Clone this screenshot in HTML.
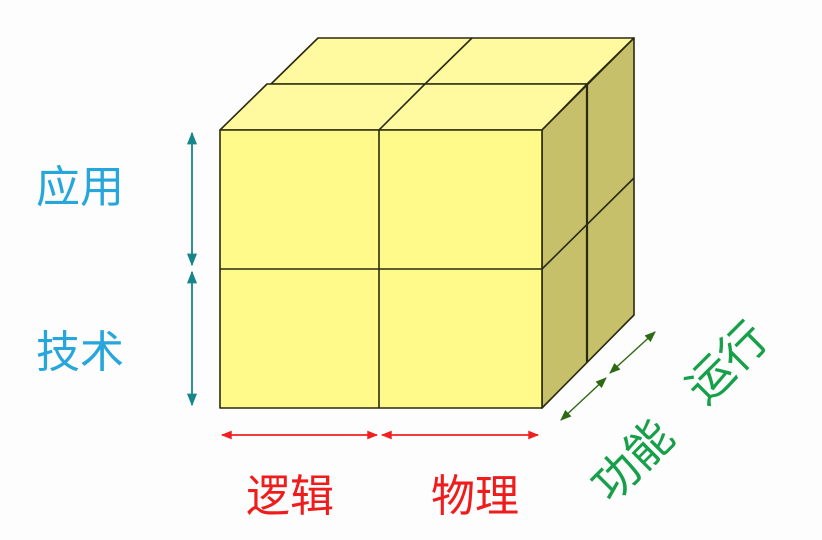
<!DOCTYPE html>
<html><head><meta charset="utf-8"><style>
body{margin:0;background:#fdfdfd;width:822px;height:535px;overflow:hidden;font-family:"Liberation Sans","Noto Sans CJK SC",sans-serif}
</style></head><body>
<svg width="822" height="535" viewBox="0 0 822 535" xmlns="http://www.w3.org/2000/svg">
<defs>
<marker id="ta" viewBox="0 0 10 10" refX="9" refY="5" markerWidth="7" markerHeight="7" orient="auto-start-reverse"><path d="M0,1 L10,5 L0,9 z" fill="#17868c"/></marker>
<marker id="ra" viewBox="0 0 10 10" refX="9" refY="5" markerWidth="7" markerHeight="6" orient="auto-start-reverse"><path d="M0,1 L10,5 L0,9 z" fill="#f02020"/></marker>
<marker id="ga" viewBox="0 0 10 10" refX="9" refY="5" markerWidth="8" markerHeight="8" orient="auto-start-reverse"><path d="M0,1 L10,5 L0,9 z" fill="#2d6a12"/></marker>
</defs>
<g stroke="#2a2a10" stroke-width="1.6" stroke-linejoin="round">
<polygon points="271,84 318,38 634,38 587,84" fill="#fff9a0"/>
<polygon points="220,130 267,84 587,84 542,130" fill="#fff9a0"/>
<line x1="379" y1="130" x2="425" y2="84"/>
<line x1="425" y1="84" x2="472" y2="38"/>
<polygon points="542,130 634,38 634,315 542,408" fill="#c6c06a"/>
<line x1="587" y1="84" x2="587" y2="362" stroke-width="2.2"/>
<line x1="542" y1="269" x2="634" y2="178"/>
<rect x="220" y="130" width="322" height="278" fill="#fffa8a"/>
<line x1="379" y1="130" x2="379" y2="408"/>
<line x1="220" y1="269" x2="542" y2="269"/>
</g>
<g stroke="#17868c" stroke-width="1.8">
<line x1="192" y1="133" x2="192" y2="265" marker-start="url(#ta)" marker-end="url(#ta)"/>
<line x1="192" y1="272" x2="192" y2="405" marker-start="url(#ta)" marker-end="url(#ta)"/>
</g>
<g stroke="#f02020" stroke-width="1.8">
<line x1="222" y1="435" x2="377" y2="435" marker-start="url(#ra)" marker-end="url(#ra)"/>
<line x1="382" y1="435" x2="538" y2="435" marker-start="url(#ra)" marker-end="url(#ra)"/>
</g>
<g stroke="#2d6a12" stroke-width="1.4">
<line x1="561" y1="420" x2="606" y2="378" marker-start="url(#ga)" marker-end="url(#ga)"/>
<line x1="610" y1="373" x2="655" y2="332" marker-start="url(#ga)" marker-end="url(#ga)"/>
</g>
<g font-size="44" font-family="Liberation Sans, Noto Sans CJK SC, sans-serif" text-anchor="middle">
<text x="80" y="202" fill="#27a6dc">应用</text>
<text x="80" y="367" fill="#27a6dc">技术</text>
<text x="290" y="511" fill="#ee1c1c">逻辑</text>
<text x="475" y="511" fill="#ee1c1c">物理</text>
<text transform="translate(644,472) rotate(-45)" font-size="46" fill="#17a04a">功能</text>
<text transform="translate(738,374) rotate(-45)" font-size="46" fill="#17a04a">运行</text>
</g>
</svg>
</body></html>
